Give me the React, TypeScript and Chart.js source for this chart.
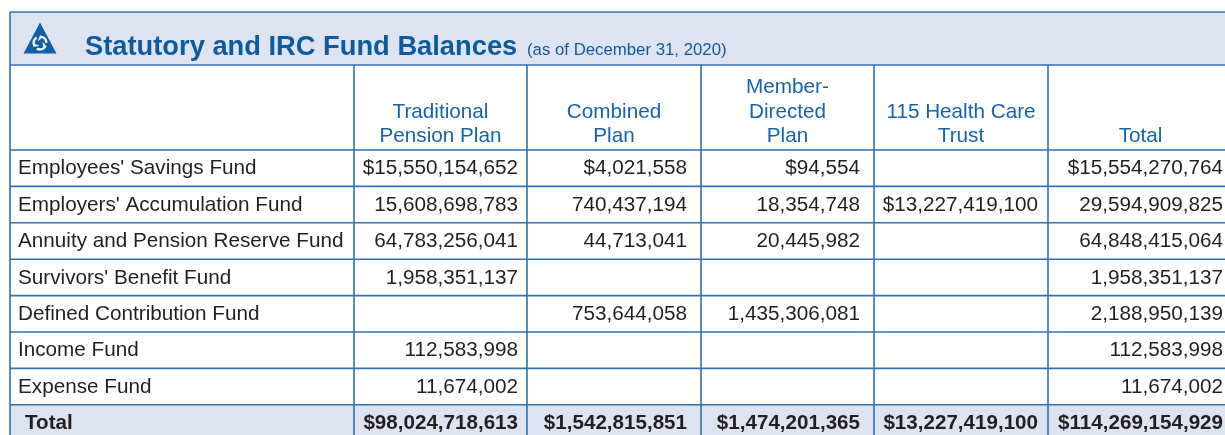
import { useEffect, useRef } from 'react';
import { Chart, registerables } from 'chart.js';

Chart.register(...registerables);

// ---------- data ----------
const titleText = 'Statutory and IRC Fund Balances';
const subtitleText = '(as of December 31, 2020)';

const rowLabels = [
  "Employees' Savings Fund",
  "Employers' Accumulation Fund",
  'Annuity and Pension Reserve Fund',
  "Survivors' Benefit Fund",
  'Defined Contribution Fund',
  'Income Fund',
  'Expense Fund',
];
const totalLabel = 'Total';

const columnHeaders = [
  ['Traditional', 'Pension Plan'],
  ['Combined', 'Plan'],
  ['Member-', 'Directed', 'Plan'],
  ['115 Health Care', 'Trust'],
  ['Total'],
];

const traditionalPension = [15550154652, 15608698783, 64783256041, 1958351137, null, 112583998, 11674002];
const combinedPlan = [4021558, 740437194, 44713041, null, 753644058, null, null];
const memberDirected = [94554, 18354748, 20445982, null, 1435306081, null, null];
const healthCareTrust = [null, 13227419100, null, null, null, null, null];
const rowTotals = [15554270764, 29594909825, 64848415064, 1958351137, 2188950139, 112583998, 11674002];
const columnTotals = [98024718613, 1542815851, 1474201365, 13227419100, 114269154929];

const seriesColumns = [traditionalPension, combinedPlan, memberDirected, healthCareTrust, rowTotals];

// ---------- layout / style ----------
const FONT = "'Liberation Sans', Arial, Helvetica, sans-serif";
const CANVAS_W = 1240;
const CANVAS_H = 460;
const COL_W = [344, 173, 174, 173, 174, 185];
const RIGHT_PAD = [9, 14, 14, 10, 10];
const TABLE_LEFT = 10;
const BAND_TOP = 12;
const BAND_BOTTOM = 65;
const HEADER_BOTTOM = 150;
const ROW_H = 36.4;
const LINE = '#3071b0';
const BAND_BG = '#dde3f0';
const TITLE_BLUE = '#0d5a9f';
const HEAD_BLUE = '#1563ab';
const TEXT = '#231f20';

const allRows = [...rowLabels, totalLabel];
const colEdges: number[] = [0];
COL_W.forEach((w) => colEdges.push(colEdges[colEdges.length - 1] + w));
const tableUnits = colEdges[colEdges.length - 1];

function fmt(v: number, dollar: boolean) {
  return (dollar ? '$' : '') + v.toLocaleString('en-US');
}

function drawLogo(ctx: CanvasRenderingContext2D) {
  ctx.fillStyle = '#1160a8';
  ctx.beginPath();
  ctx.moveTo(40, 22.5);
  ctx.lineTo(56.5, 53.5);
  ctx.lineTo(23.5, 53.5);
  ctx.closePath();
  ctx.fill();
  const cx = 40, cy = 43;
  ctx.fillStyle = '#ffffff';
  for (let k = 0; k < 3; k++) {
    const a = -Math.PI / 2 + (k * 2 * Math.PI) / 3;
    // comma-like blade: outer arc then sweeping back to an inner point
    ctx.beginPath();
    ctx.arc(cx, cy, 7.6, a, a + 1.55);
    ctx.arc(cx, cy, 5.2, a + 1.55, a + 0.35, true);
    ctx.quadraticCurveTo(
      cx + 2.6 * Math.cos(a - 0.2), cy + 2.6 * Math.sin(a - 0.2),
      cx + 3.0 * Math.cos(a - 0.9), cy + 3.0 * Math.sin(a - 0.9)
    );
    ctx.closePath();
    ctx.fill();
  }
}

const tablePlugin = {
  id: 'fundTable',
  afterDraw(chart: any) {
    const ctx: CanvasRenderingContext2D = chart.ctx;
    const xs = chart.scales.x;
    const ys = chart.scales.y;
    const left = xs.getPixelForValue(0);
    const right = xs.getPixelForValue(tableUnits);
    const edgesPx = colEdges.map((e) => xs.getPixelForValue(e));
    const rowTop = (i: number) => ys.getPixelForValue(i) - ROW_H / 2;
    const bottom = rowTop(allRows.length);

    ctx.save();
    // band
    ctx.fillStyle = BAND_BG;
    ctx.fillRect(left, BAND_TOP, right - left, BAND_BOTTOM - BAND_TOP);
    // total row background
    const tTop = rowTop(allRows.length - 1);
    ctx.fillRect(left, tTop, right - left, bottom - tTop);

    drawLogo(ctx);

    // title
    ctx.textBaseline = 'alphabetic';
    ctx.textAlign = 'left';
    ctx.fillStyle = TITLE_BLUE;
    ctx.font = `bold 27.3px ${FONT}`;
    ctx.fillText(titleText, 85, 55);
    ctx.font = `16.8px ${FONT}`;
    ctx.fillText(subtitleText, 527, 55);

    // column headers
    ctx.fillStyle = HEAD_BLUE;
    ctx.font = `20.7px ${FONT}`;
    ctx.textAlign = 'center';
    columnHeaders.forEach((lines, c) => {
      const mid = (edgesPx[c + 1] + edgesPx[c + 2]) / 2;
      lines.forEach((ln, j) => {
        const yb = 142 - (lines.length - 1 - j) * 24.5;
        ctx.fillText(ln, mid, yb);
      });
    });

    // row labels
    ctx.textAlign = 'left';
    ctx.fillStyle = TEXT;
    allRows.forEach((lab, i) => {
      const isTotal = i === allRows.length - 1;
      ctx.font = `${isTotal ? 'bold 20.6px' : '20.7px'} ${FONT}`;
      ctx.fillText(lab, left + (isTotal ? 15 : 8), rowTop(i) + 24.3);
    });

    // values from dataset elements
    ctx.textAlign = 'right';
    chart.data.datasets.forEach((ds: any, c: number) => {
      const meta = chart.getDatasetMeta(c);
      meta.data.forEach((el: any, i: number) => {
        const raw = ds.data[i];
        if (!raw || raw.v == null) return;
        ctx.font = `${raw.total ? 'bold 20.6px' : '20.7px'} ${FONT}`;
        ctx.fillText(fmt(raw.v, raw.dollar), el.x - RIGHT_PAD[c], el.y - ROW_H / 2 + 24.3);
      });
    });

    // grid lines
    ctx.strokeStyle = LINE;
    ctx.lineWidth = 1.6;
    ctx.beginPath();
    ctx.moveTo(left, BAND_TOP); ctx.lineTo(right, BAND_TOP);
    ctx.moveTo(left, BAND_BOTTOM); ctx.lineTo(right, BAND_BOTTOM);
    ctx.moveTo(left, BAND_TOP); ctx.lineTo(left, bottom);
    ctx.moveTo(right, BAND_TOP); ctx.lineTo(right, bottom);
    for (let c = 1; c < edgesPx.length - 1; c++) {
      ctx.moveTo(edgesPx[c], BAND_BOTTOM); ctx.lineTo(edgesPx[c], bottom);
    }
    for (let i = 0; i <= allRows.length; i++) {
      const y = rowTop(i);
      ctx.moveTo(left, y); ctx.lineTo(right, y);
    }
    ctx.stroke();
    ctx.restore();
  },
};

export default function App() {
  const ref = useRef<HTMLCanvasElement | null>(null);
  useEffect(() => {
    if (!ref.current) return;
    const datasets = seriesColumns.map((col, c) => {
      let seen = false;
      const pts = col.map((v, i) => {
        const dollar = v != null && !seen;
        if (v != null) seen = true;
        return { x: colEdges[c + 2], y: allRows[i], v, dollar, total: false };
      });
      pts.push({ x: colEdges[c + 2], y: totalLabel, v: columnTotals[c], dollar: true, total: true });
      return {
        label: columnHeaders[c].join(' '),
        data: pts,
        pointRadius: 0,
        showLine: false,
      };
    });
    const chart = new Chart(ref.current, {
      type: 'scatter',
      data: { datasets: datasets as any },
      options: {
        responsive: false,
        animation: false,
        devicePixelRatio: 1,
        events: [],
        layout: {
          padding: {
            left: TABLE_LEFT,
            right: CANVAS_W - TABLE_LEFT - tableUnits,
            top: HEADER_BOTTOM,
            bottom: CANVAS_H - HEADER_BOTTOM - ROW_H * allRows.length,
          },
        },
        scales: {
          x: { type: 'linear', min: 0, max: tableUnits, display: false },
          y: { type: 'category', labels: allRows, offset: true, display: false },
        },
        plugins: { legend: { display: false }, tooltip: { enabled: false } },
      },
      plugins: [tablePlugin],
    });
    return () => chart.destroy();
  }, []);
  return (
    <div style={{ position: 'fixed', left: 0, top: 0, width: 1225, height: 435, overflow: 'hidden', background: '#fff' }}>
      <canvas ref={ref} width={CANVAS_W} height={CANVAS_H} style={{ display: 'block', width: CANVAS_W, height: CANVAS_H }} />
    </div>
  );
}
